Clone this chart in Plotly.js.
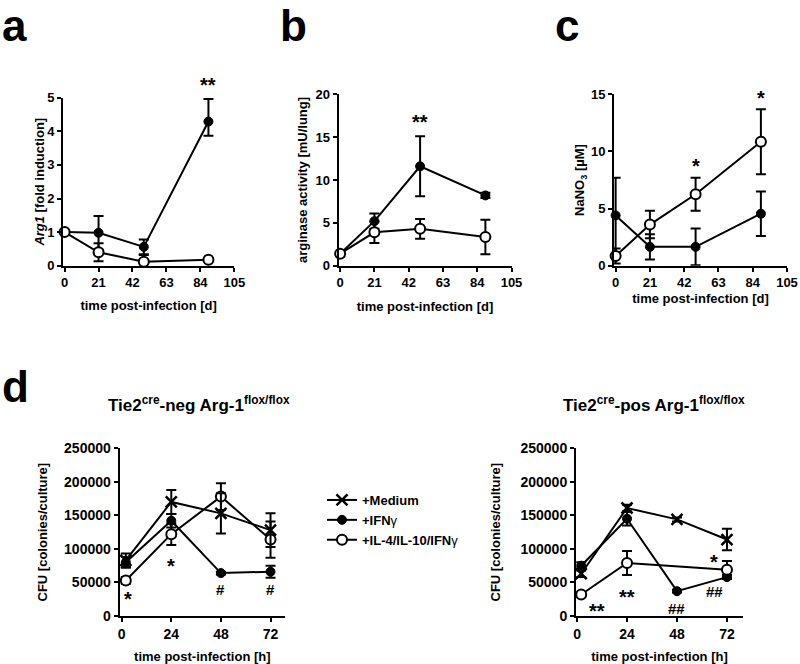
<!DOCTYPE html>
<html><head><meta charset="utf-8">
<script src="https://cdn.plot.ly/plotly-3.0.1.min.js"></script>
<style>html,body{margin:0;padding:0;background:#fff}#chart{width:800px;height:664px}</style>
</head><body><div id="chart"></div>
<script>
// ---------- data ----------
const daysAC = [0, 21, 49, 89];
const daysTicks = [0, 21, 42, 63, 84, 105];

const arg1Filled = [1.0, 0.98, 0.56, 4.29];
const arg1FilledErrUp = [0, 0.50, 0.22, 0.67];
const arg1FilledErrDown = [0, 0.50, 0.22, 0.42];
const arg1Open = [1.0, 0.40, 0.12, 0.18];
const arg1OpenErr = [0, 0.27, 0.20, 0.05];

const argActFilled = [1.4, 5.2, 11.6, 8.2];
const argActFilledErr = [0.3, 0.9, 3.5, 0.3];
const argActOpen = [1.4, 3.9, 4.3, 3.35];
const argActOpenErr = [0.3, 1.25, 1.15, 2.0];

const nitFilled = [4.4, 1.65, 1.65, 4.55];
const nitFilledErr = [3.3, 1.1, 1.6, 1.95];
const nitOpen = [0.85, 3.6, 6.25, 10.85];
const nitOpenErr = [0.65, 1.2, 1.45, 2.85];

const hours = [2, 24, 48, 72];
const hoursTicks = [0, 24, 48, 72];
const hoursPosIL = [2, 24, 72];

const negMedium = [83000, 170000, 153000, 128000];
const negMediumErr = [10000, 18000, 30000, 25000];
const negIFN = [80000, 142000, 64000, 66000];
const negIFNErr = [8000, 10000, 2000, 9000];
const negIL = [53000, 122000, 178000, 114000];
const negILErr = [5000, 16000, 20000, 27000];

const posMedium = [63000, 161000, 144000, 114000];
const posMediumErr = [5000, 5000, 3000, 16000];
const posIFN = [75000, 145000, 37000, 58000];
const posIFNErr = [5000, 10000, 2000, 3000];
const posIL = [32000, 79000, 69000];
const posILErr = [3000, 18000, 13000];

const seriesNames = ['+Medium', '+IFN<span style="font-weight:normal">γ</span>', '+IL-4/IL-10/IFN<span style="font-weight:normal">γ</span>'];

// significance marks: [axis, x, y, text]
const sigMarks = [
  ['1', 89, 5, '**'],
  ['2', 49, 17.2, '**'],
  ['3', 49, 9.1, '*'],
  ['3', 89, 15, '*'],
  ['4', 3, 31000, '*'],
  ['4', 24, 80000, '*'],
  ['4', 48, 40000, '#'],
  ['4', 72, 40000, '#'],
  ['5', 9.5, 14000, '**'],
  ['5', 24, 35000, '**'],
  ['5', 48, 11000, '##'],
  ['5', 66, 36000, '##'],
  ['5', 66, 87000, '*']
];

// ---------- styles ----------
const FONT = 'Liberation Sans, Arial, Helvetica, sans-serif';
const black = '#000';
const lineS = {color: black, width: 2};
const mFilled = {symbol: 'circle', size: 9, color: black, line: {color: black, width: 1}};
const mOpen = {symbol: 'circle', size: 10, color: '#fff', line: {color: black, width: 2}};
const mX = {symbol: 'x-thin-open', size: 11, color: black, line: {color: black, width: 2.5}};
function err(up, down) {
  const e = {type: 'data', array: up, color: black, thickness: 2, width: 5, visible: true};
  if (down) { e.symmetric = false; e.arrayminus = down; }
  return e;
}
function tr(x, y, e, marker, xa, ya, extra) {
  return Object.assign({type: 'scatter', mode: 'lines+markers', x: x, y: y, error_y: e,
    marker: marker, line: lineS, xaxis: xa, yaxis: ya, showlegend: false, hoverinfo: 'skip', cliponaxis: false}, extra || {});
}

const data = [
  tr(daysAC, arg1Filled, err(arg1FilledErrUp, arg1FilledErrDown), mFilled, 'x', 'y'),
  tr(daysAC, arg1Open, err(arg1OpenErr), mOpen, 'x', 'y'),
  tr(daysAC, argActFilled, err(argActFilledErr), mFilled, 'x2', 'y2'),
  tr(daysAC, argActOpen, err(argActOpenErr), mOpen, 'x2', 'y2'),
  tr(daysAC, nitFilled, err(nitFilledErr), mFilled, 'x3', 'y3'),
  tr(daysAC, nitOpen, err(nitOpenErr), mOpen, 'x3', 'y3'),
  tr(hours, negIFN, err(negIFNErr), mFilled, 'x4', 'y4', {name: seriesNames[1], showlegend: true, legendrank: 2}),
  tr(hours, negIL, err(negILErr), mOpen, 'x4', 'y4', {name: seriesNames[2], showlegend: true, legendrank: 3}),
  tr(hours, negMedium, err(negMediumErr), mX, 'x4', 'y4', {name: seriesNames[0], showlegend: true, legendrank: 1}),
  tr(hours, posIFN, err(posIFNErr), mFilled, 'x5', 'y5'),
  tr(hoursPosIL, posIL, err(posILErr), mOpen, 'x5', 'y5'),
  tr(hours, posMedium, err(posMediumErr), mX, 'x5', 'y5')
];

const tickF = {family: FONT, size: 13, color: black, weight: 'bold'};
const tickFd = {family: FONT, size: 14, color: black, weight: 'bold'};
const titleF = {family: FONT, size: 13, color: black, weight: 'bold'};
function ax(o) {
  return Object.assign({showline: true, linewidth: 2, linecolor: black, ticks: 'outside', ticklen: 4,
    tickwidth: 2, tickcolor: black, showgrid: false, zeroline: false, tickfont: tickF, fixedrange: true}, o);
}
const H = 664, W = 800;
const px = v => v / W, py = v => 1 - v / H;

const layout = {
  width: W, height: H, margin: {l: 0, r: 0, t: 0, b: 0},
  paper_bgcolor: '#fff', plot_bgcolor: 'rgba(0,0,0,0)',
  font: {family: FONT, color: black},
  xaxis: ax({domain: [px(63), px(234.3)], range: [-1, 105], tickvals: daysTicks, anchor: 'y',
    title: {text: 'time post-infection [d]', font: titleF, standoff: 12}}),
  yaxis: ax({domain: [py(265.7), py(97.7)], range: [0, 5], dtick: 1, anchor: 'x',
    title: {text: '<i>Arg1</i> [fold induction]', font: titleF, standoff: 0}}),
  xaxis2: ax({domain: [px(338.5), px(511.5)], range: [-1, 105], tickvals: daysTicks, anchor: 'y2',
    title: {text: 'time post-infection [d]', font: titleF, standoff: 13}}),
  yaxis2: ax({domain: [py(265.7), py(94.3)], range: [0, 20], dtick: 5, anchor: 'x2',
    title: {text: 'arginase activity [mU/lung]', font: titleF, standoff: 5}}),
  xaxis3: ax({domain: [px(614), px(787)], range: [-1, 105], tickvals: daysTicks, anchor: 'y3',
    title: {text: 'time post-infection [d]', font: titleF, standoff: 5}}),
  yaxis3: ax({domain: [py(265.7), py(94.3)], range: [0, 15], dtick: 5, anchor: 'x3',
    title: {text: 'NaNO<sub>3</sub> [µM]', font: titleF, standoff: 3}}),
  xaxis4: ax({domain: [px(119.6), px(285)], range: [-1, 79], tickvals: hoursTicks, anchor: 'y4', tickfont: tickFd,
    title: {text: 'time post-infection [h]', font: titleF, standoff: 12}}),
  yaxis4: ax({domain: [py(616), py(448.3)], range: [0, 250000], dtick: 50000, tickformat: 'd', anchor: 'x4', tickfont: tickFd,
    title: {text: 'CFU [colonies/culture]', font: titleF, standoff: 14}}),
  xaxis5: ax({domain: [px(576), px(743)], range: [-0.5, 79.7], tickvals: hoursTicks, anchor: 'y5', tickfont: tickFd,
    title: {text: 'time post-infection [h]', font: titleF, standoff: 12}}),
  yaxis5: ax({domain: [py(616), py(448.3)], range: [0, 250000], dtick: 50000, tickformat: 'd', anchor: 'x5', tickfont: tickFd,
    title: {text: 'CFU [colonies/culture]', font: titleF, standoff: 17}}),
  showlegend: true,
  legend: {x: px(322), y: py(485), xanchor: 'left', yanchor: 'top', bgcolor: 'rgba(0,0,0,0)',
    font: {family: FONT, size: 13, color: black, weight: 'bold'}, traceorder: 'normal', itemwidth: 30, tracegroupgap: 0},
  annotations: []
};

// panel letters
[['a', 0, 25], ['b', 278, 25], ['c', 553, 25], ['d', 0, 386]].forEach(l => {
  layout.annotations.push({text: l[0], xref: 'paper', yref: 'paper', x: px(l[1]), y: py(l[2]),
    xanchor: 'left', yanchor: 'middle', showarrow: false, font: {family: FONT, size: 44, color: black, weight: 'bold'}});
});
// panel d titles
[['Tie2<sup>cre</sup>-neg Arg-1<sup>flox/flox</sup>', 198.7], ['Tie2<sup>cre</sup>-pos Arg-1<sup>flox/flox</sup>', 654]].forEach(t => {
  layout.annotations.push({text: t[0], xref: 'paper', yref: 'paper', x: px(t[1]), y: py(404),
    xanchor: 'center', yanchor: 'middle', showarrow: false, font: {family: FONT, size: 17, color: black, weight: 'bold'}});
});
// significance marks
sigMarks.forEach(s => {
  const isStar = s[3].indexOf('*') >= 0;
  let shift = isStar ? -4 : 0;
  if (s[0] === '1') shift += 17;
  layout.annotations.push({text: s[3], xref: 'x' + (s[0] === '1' ? '' : s[0]), yref: 'y' + (s[0] === '1' ? '' : s[0]),
    x: s[1], y: s[2], yshift: shift, showarrow: false, xanchor: 'center', yanchor: 'middle',
    font: {family: FONT, size: isStar ? 20 : 15, color: black, weight: 'bold'}});
});

Plotly.newPlot('chart', data, layout, {displayModeBar: false, staticPlot: true});
</script>
</body></html>
